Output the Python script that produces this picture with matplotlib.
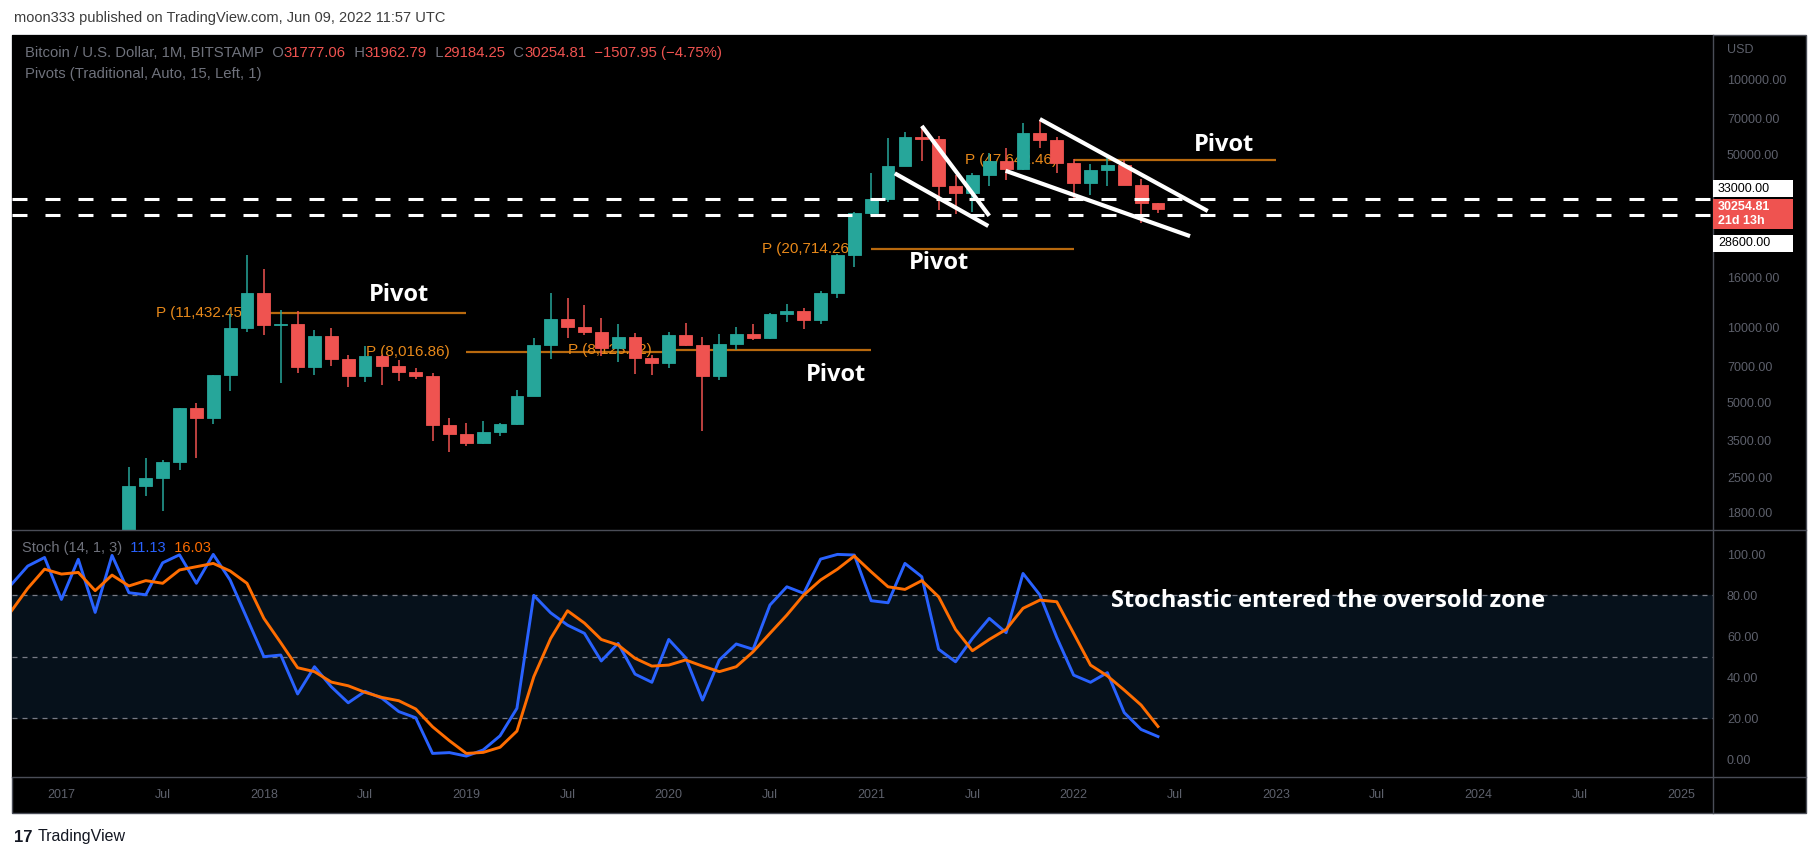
import matplotlib
matplotlib.use("Agg")
import matplotlib.pyplot as plt
from matplotlib.patches import Rectangle
from matplotlib.lines import Line2D
from matplotlib.ticker import NullLocator, NullFormatter
import numpy as np

plt.rcParams['font.family'] = ['Liberation Sans', 'DejaVu Sans']

W, H = 1813, 856

# monthly BTC/USD candles, Jan 2017 .. Jun 2022 (index 0 = Jan 2017)
opens = [963, 970, 1190, 1080, 1348, 2300, 2480, 2875, 4735, 4340, 6450, 9950,
         13860, 10230, 10330, 6930, 9240, 7500, 6400, 7730, 7030, 6630, 6370, 4040,
         3740, 3440, 3810, 4100, 5320, 8560, 10820, 10080, 9600, 8290, 9150, 7550,
         7190, 9350, 8530, 6410, 8630, 9450, 9140, 11340, 11650, 10780, 13800, 19700,
         28950, 33100, 45150, 58770, 57700, 37300, 35040, 41460, 47100, 43800, 61300, 57000,
         46200, 38500, 43200, 45500, 37650, 31777.06]
highs = [1153, 1200, 1300, 1350, 2760, 2980, 2930, 4750, 4980, 6470, 11400, 19666,
         17250, 11790, 11700, 9760, 9990, 7770, 8480, 7760, 7410, 6900, 6550, 4320,
         4130, 4200, 4150, 5640, 9070, 13880, 13200, 12330, 10950, 10370, 9510, 7750,
         9580, 10500, 9190, 9460, 10080, 10380, 11450, 12470, 12070, 14100, 19900, 29300,
         42000, 58100, 61500, 64900, 59600, 41300, 42300, 50500, 52900, 67000, 69000, 59100,
         47900, 45800, 48200, 47400, 40000, 31962.79]
lows = [752, 915, 891, 1060, 1320, 2100, 1830, 2670, 2980, 4110, 5550, 9600,
        9400, 6000, 6600, 6430, 7050, 5780, 6070, 5880, 6110, 6200, 3500, 3150,
        3350, 3400, 3670, 4070, 5300, 7460, 9100, 9360, 7710, 7300, 6520, 6430,
        6860, 8450, 3850, 6150, 8120, 8900, 8990, 10550, 9880, 10380, 13230, 17600,
        28500, 32300, 45000, 47000, 30000, 28800, 29300, 37300, 39600, 43300, 53300, 42000,
        32900, 34300, 37200, 37600, 26600, 29184.25]
closes = [970, 1190, 1080, 1348, 2300, 2480, 2875, 4735, 4340, 6450, 9950, 13860,
          10230, 10330, 6930, 9240, 7500, 6400, 7730, 7030, 6630, 6370, 4040, 3740,
          3440, 3810, 4100, 5320, 8560, 10820, 10080, 9600, 8290, 9150, 7550, 7190,
          9350, 8530, 6410, 8630, 9450, 9140, 11340, 11650, 10780, 13800, 19700, 28950,
          33100, 45150, 58770, 57700, 37300, 35040, 41460, 47100, 43800, 61300, 57000, 46200,
          38500, 43200, 45500, 37650, 31800, 30254.81]

# Stoch (14, 1, 3), index -3 (Oct 2016) .. 65 (Jun 2022)
stoch_start = -3
stoch_k = [85, 94.3, 98.5, 78.0, 97.6, 71.7, 99.5, 81.3, 80.3, 95.9, 99.8, 85.9, 100, 87.5,
           68.8, 50.1, 50.9, 31.9, 45.2, 35.4, 27.6, 33.2, 29.8, 23.3, 20.3, 2.9, 3.3, 1.6,
           4.6, 11.5, 24.9, 80.0, 71.5, 65.5, 61.5, 48.0, 56.6, 41.6, 37.6, 58.5, 49.6, 28.9,
           48.5, 56.3, 53.7, 75.3, 84.2, 81.0, 97.7, 100, 99.7, 77.4, 76.4, 95.6, 89.1, 53.7,
           47.6, 59.0, 68.8, 61.8, 90.7, 80.2, 59.5, 41.1, 37.6, 42.3, 22.8, 14.6, 11.13]
stoch_d = [72, 83.4, 92.8, 90.4, 91.2, 82.3, 89.9, 84.6, 87.2, 85.9, 92.4, 94.0, 95.6, 91.9,
           85.9, 68.8, 56.9, 44.7, 42.8, 37.7, 35.9, 32.7, 30.2, 28.6, 24.6, 15.9, 9.1, 2.9,
           3.4, 5.9, 13.8, 40.3, 59.0, 72.5, 66.5, 58.5, 55.8, 49.3, 45.5, 46.0, 48.5, 45.5,
           42.8, 45.2, 52.5, 61.5, 70.4, 80.2, 87.5, 92.8, 99.2, 91.5, 84.2, 82.9, 87.2, 79.3,
           63.4, 53.0, 58.5, 63.4, 73.7, 77.7, 76.9, 61.5, 46.0, 40.7, 33.8, 26.5, 16.03]

# yearly traditional pivots (start month index, value)
pivot_start = [12, 24, 36, 48, 60]
pivot_value = [11432.45, 8016.86, 8123.22, 20714.26, 47642.46]
pivot_label = ["P (11,432.45)", "P (8,016.86)", "P (8,123.22)", "P (20,714.26)", "P (47,642.46)"]

# hand drawn levels / trendlines
levels = [33000, 28600]
trendlines = [((51.0, 65200), (55.0, 28300)),
              ((49.4, 42000), (54.94, 25750)),
              ((58.0, 69500), (67.95, 29600)),
              ((55.97, 43000), (66.9, 23440))]
pivot_notes = [(20.0, 13570), (45.9, 6460), (52.0, 18250), (68.9, 54600)]

price_ticks = [1800, 2500, 3500, 5000, 7000, 10000, 16000, 50000, 70000, 100000]
stoch_ticks = [0, 20, 40, 60, 80, 100]
x_ticks = list(range(0, 97, 6))
x_labels = ["2017", "Jul", "2018", "Jul", "2019", "Jul", "2020", "Jul", "2021", "Jul",
            "2022", "Jul", "2023", "Jul", "2024", "Jul", "2025"]

TEAL = '#26a69a'
RED = '#ef5350'
AXC = '#5d606b'
FRAME = '#4a4d57'
PIV_LINE = '#b8690e'
PIV_TEXT = '#e8891a'


def frac(x0, y0, x1, y1):
    return [x0 / W, 1 - y1 / H, (x1 - x0) / W, (y1 - y0) / H]


fig = plt.figure(figsize=(W / 100, H / 100), dpi=100, facecolor='white')

# black chart frame
fig.add_artist(Rectangle((12, H - 813), 1794, 778, transform=None, facecolor='black',
                         edgecolor=FRAME, lw=1, zorder=-5))

ax_p = fig.add_axes(frac(12, 35, 1713, 530))
ax_s = fig.add_axes(frac(12, 530, 1713, 777), sharex=ax_p)
for ax in (ax_p, ax_s):
    ax.set_facecolor('black')
    for sp in ax.spines.values():
        sp.set_visible(False)

# ---- price panel
idx = np.arange(len(opens))
o = np.array(opens)
h = np.array(highs)
l = np.array(lows)
c = np.array(closes)
cols = np.where(c >= o, TEAL, RED)
ax_p.vlines(idx, l, h, colors=cols, lw=1.1, zorder=3)
ax_p.bar(idx, np.abs(c - o), bottom=np.minimum(o, c), width=0.76, color=cols,
         edgecolor=cols, linewidth=0.6, zorder=4)

for s, v, lab in zip(pivot_start, pivot_value, pivot_label):
    ax_p.hlines(v, s, s + 12, color=PIV_LINE, lw=1.6, zorder=2)
    ax_p.text(s - 1, v, lab, ha='right', va='center', color=PIV_TEXT, fontsize=11, zorder=2)

for lv in levels:
    ax_p.axhline(lv, color='white', lw=2.2, ls=(0, (4.9, 5.9)), zorder=5)

for (x0, y0), (x1, y1) in trendlines:
    ax_p.plot([x0, x1], [y0, y1], color='white', lw=3, solid_capstyle='butt', zorder=6)

for x, y in pivot_notes:
    ax_p.text(x, y, "Pivot", color='white', fontsize=17, fontweight='bold',
              family=['Open Sans', 'DejaVu Sans'], ha='center', va='center', zorder=7)

ax_p.set_yscale('log')
ax_p.set_ylim(1531, 151700)
ax_p.set_xlim(-2.93, 97.9)
ax_p.yaxis.tick_right()
ax_p.set_yticks(price_ticks, labels=[f"{v:.2f}" for v in price_ticks])
ax_p.yaxis.set_minor_locator(NullLocator())
ax_p.yaxis.set_minor_formatter(NullFormatter())
ax_p.tick_params(axis='y', length=0, pad=10, labelsize=9, labelcolor=AXC)
ax_p.tick_params(axis='x', length=0, labelbottom=False)

# ---- stochastic panel
sx = np.arange(stoch_start, stoch_start + len(stoch_k))
ax_s.axhspan(20, 80, color='#06111b', zorder=0)
for g in (20, 50, 80):
    ax_s.axhline(g, color='#787b86', lw=0.9, ls=(0, (4, 4)), zorder=1)
ax_s.plot(sx, stoch_k, color='#2962ff', lw=2.1, zorder=3)
ax_s.plot(sx, stoch_d, color='#ff6d00', lw=2.1, zorder=4)
ax_s.text(62.2, 77.5, "Stochastic entered the oversold zone", color='white', fontsize=17,
          fontweight='bold', family=['Open Sans', 'DejaVu Sans'], ha='left', va='center', zorder=7)
ax_s.set_ylim(-8.6, 111.9)
ax_s.yaxis.tick_right()
ax_s.set_yticks(stoch_ticks, labels=[f"{v:.2f}" for v in stoch_ticks])
ax_s.tick_params(axis='y', length=0, pad=10, labelsize=9, labelcolor=AXC)
ax_s.set_xticks(x_ticks, labels=x_labels)
ax_s.tick_params(axis='x', length=0, pad=9, labelsize=9, labelcolor=AXC)

# separators
for xs, ys in (([12, 1806], [530, 530]), ([12, 1806], [777, 777]), ([1713, 1713], [35, 813])):
    fig.add_artist(Line2D(xs, [H - y for y in ys], transform=None, color=FRAME, lw=1, zorder=10))

# right axis boxes
def price_box(y0, y1, lines, face, tc, bold=False):
    fig.add_artist(Rectangle((1713, H - y1), 80, y1 - y0, transform=None, facecolor=face,
                             edgecolor='none', zorder=11))
    n = len(lines)
    for i, t in enumerate(lines):
        yy = y0 + (y1 - y0) * (i + 0.5) / n
        fig.text(1718 / W, 1 - yy / H, t, color=tc, fontsize=9, va='center', ha='left',
                 fontweight='bold' if bold else 'normal', zorder=12)


price_box(180, 197, ["33000.00"], 'white', 'black')
price_box(199, 229, ["30254.81", "21d 13h"], RED, 'white', bold=True)
price_box(235, 252, ["28600.00"], 'white', 'black')
fig.text(1727 / W, 1 - 50 / H, "USD", color=AXC, fontsize=9, va='center')

# legends
renderer = fig.canvas.get_renderer()


def chain(x, y, pieces, size, gap=0):
    for s, col in pieces:
        t = fig.text(x / W, 1 - y / H, s, color=col, fontsize=size, va='center', ha='left', zorder=12)
        x += t.get_window_extent(renderer=renderer).width + gap


GRAY = '#6f727c'
chain(25, 53, [("Bitcoin / U.S. Dollar, 1M, BITSTAMP", GRAY), ("  O", GRAY), ("31777.06", RED),
               ("  H", GRAY), ("31962.79", RED), ("  L", GRAY), ("29184.25", RED),
               ("  C", GRAY), ("30254.81", RED), ("  \u22121507.95 (\u22124.75%)", RED)], 10.7)
chain(25, 74, [("Pivots (Traditional, Auto, 15, Left, 1)", GRAY)], 10.7)
chain(22, 548, [("Stoch (14, 1, 3)", GRAY), ("  11.13", '#2962ff'), ("  16.03", '#ff6d00')], 10.5)

fig.text(14 / W, 1 - 18 / H, "moon333 published on TradingView.com, Jun 09, 2022 11:57 UTC",
         color='#3c3c3c', fontsize=10.5, va='center')
fig.text(14 / W, 1 - 837 / H, "17", color='#131722', fontsize=12, fontweight='heavy', va='center')
fig.text(38 / W, 1 - 837 / H, "TradingView", color='#131722', fontsize=11.5, va='center')

fig.savefig("out.png", dpi=100, facecolor='white')
